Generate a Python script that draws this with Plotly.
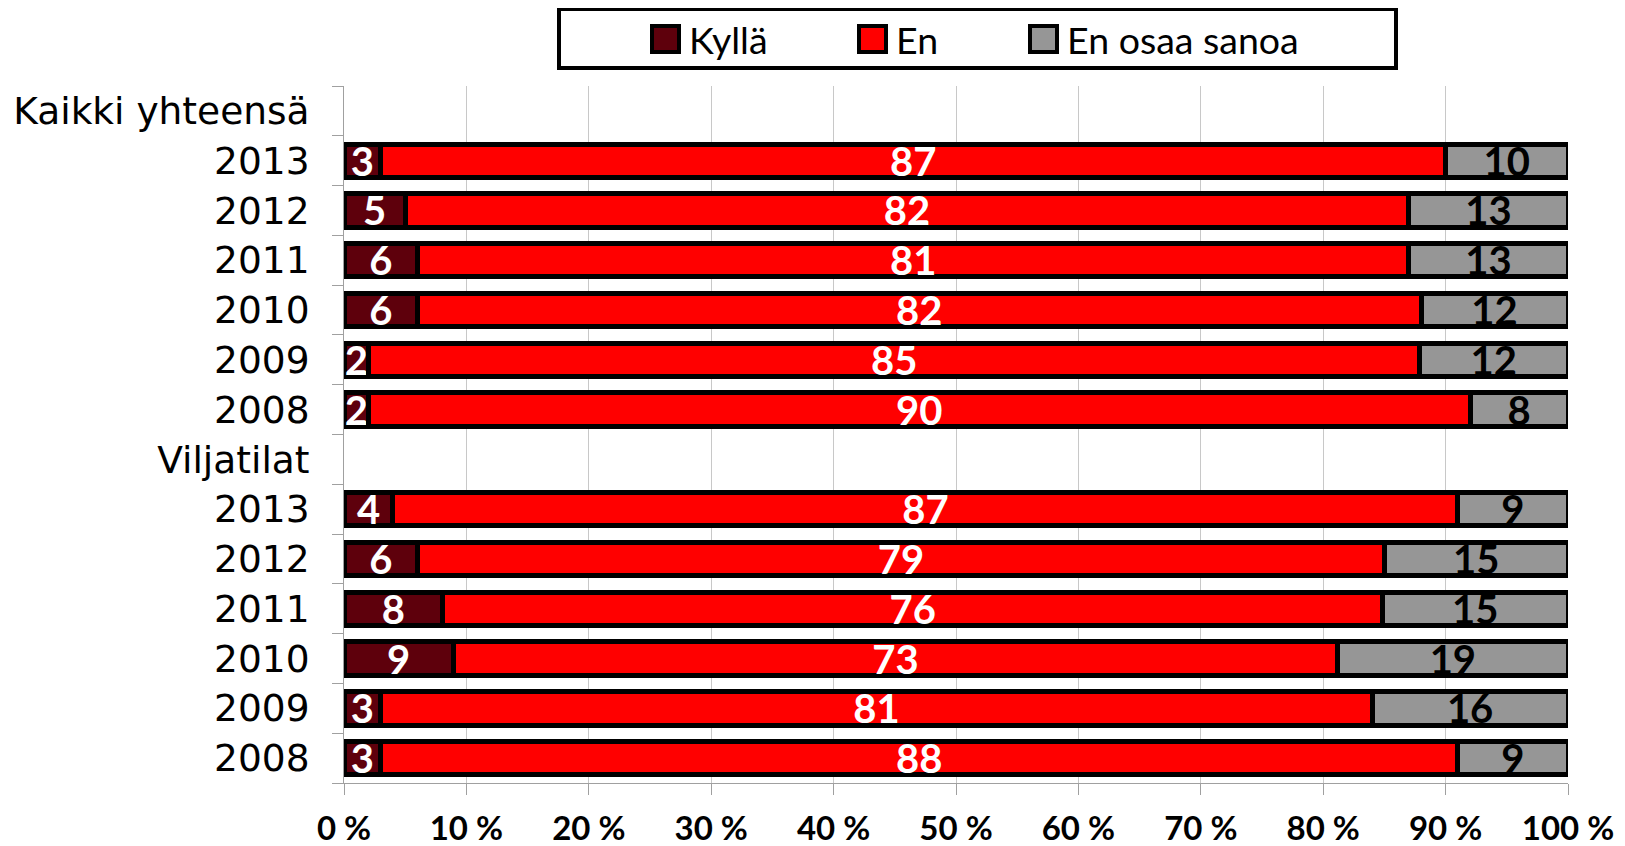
import plotly.graph_objects as go

# rows top to bottom; header rows carry no bar
row_labels = ["Kaikki yhteensä", "2013", "2012", "2011", "2010", "2009", "2008",
              "Viljatilat", "2013", "2012", "2011", "2010", "2009", "2008"]
row_ids = ["hdr_k", "k2013", "k2012", "k2011", "k2010", "k2009", "k2008",
           "hdr_v", "v2013", "v2012", "v2011", "v2010", "v2009", "v2008"]

# Kaikki yhteensä
kylla_kaikki = [3, 5, 6, 6, 2, 2]
en_kaikki = [87, 82, 81, 82, 85, 90]
eos_kaikki = [10, 13, 13, 12, 12, 8]
# Viljatilat
kylla_vilja = [4, 6, 8, 9, 3, 3]
en_vilja = [87, 79, 76, 73, 81, 88]
eos_vilja = [9, 15, 15, 19, 16, 9]

series_names = ["Kyllä", "En", "En osaa sanoa"]
series_colors = ["#5E000C", "#FF0000", "#969696"]
label_colors = ["white", "white", "black"]
kaikki_vals = [kylla_kaikki, en_kaikki, eos_kaikki]
vilja_vals = [kylla_vilja, en_vilja, eos_vilja]

x_ticks = list(range(0, 101, 10))

# the page body has an 8px margin, so figure coords = screen coords - 8
OFF = 8
W, H = 1625 - OFF, 846 - OFF
L, R, T, B = 344 - OFF, 1568 - OFF, 86 - OFF, 783 - OFF


def px_x(p):
    return (p - OFF - L) / (R - L)


def px_y(p):
    return (B - (p - OFF)) / (B - T)


fig = go.Figure()
for name, color, txtcolor, kaikki, vilja in zip(series_names, series_colors, label_colors,
                                                 kaikki_vals, vilja_vals):
    xs = [None] + kaikki + [None] + vilja
    txt = [""] + [str(v) for v in kaikki] + [""] + [str(v) for v in vilja]
    fig.add_trace(go.Bar(
        y=row_ids, x=xs, name=name, orientation="h",
        marker=dict(color=color, line=dict(color="black", width=5)),
        text=txt, textposition="inside", insidetextanchor="middle",
        textangle=0, constraintext="none",
        textfont=dict(family="Lato", size=40, color=txtcolor, weight="bold"),
        hoverinfo="skip", showlegend=False,
    ))

# hand-drawn legend box like the original (screen pixel positions)
legend_y = 39
icon_left = [652, 859, 1030]
shapes = [dict(type="rect", xref="paper", yref="paper",
               x0=px_x(559), x1=px_x(1396), y0=px_y(68), y1=px_y(9),
               line=dict(color="black", width=4), fillcolor="white", layer="below")]
annotations = []
for name, color, xl in zip(series_names, series_colors, icon_left):
    shapes.append(dict(type="rect", xref="paper", yref="paper",
                       x0=px_x(xl), x1=px_x(xl + 27), y0=px_y(legend_y + 13), y1=px_y(legend_y - 13),
                       line=dict(color="black", width=4), fillcolor=color))
    annotations.append(dict(text=name, xref="paper", yref="paper", x=px_x(xl + 35), y=px_y(legend_y),
                            xanchor="left", yanchor="middle", showarrow=False,
                            font=dict(family="Lato", size=37.5, color="black")))

fig.update_layout(
    width=W, height=H,
    barmode="stack", barnorm="percent", bargap=0.33,
    margin=dict(l=L, r=W - R, t=T, b=H - B, autoexpand=False),
    paper_bgcolor="white", plot_bgcolor="white",
    showlegend=False, shapes=shapes, annotations=annotations,
)

fig.update_xaxes(
    range=[0, 100], tickmode="array", tickvals=x_ticks,
    ticktext=[f"{v} %" for v in x_ticks],
    showgrid=True, gridcolor="#C8C8C8", gridwidth=1, zeroline=False,
    showline=True, linecolor="#A0A0A0", linewidth=1,
    ticks="outside", ticklen=11, tickcolor="#A0A0A0",
    tickfont=dict(family="Lato", size=33, color="black", weight="bold"),
    ticklabelstandoff=5, automargin=False,
)
fig.update_yaxes(
    type="category", categoryorder="array", categoryarray=row_ids,
    autorange="reversed",
    tickmode="array", tickvals=row_ids, ticktext=row_labels,
    showgrid=False, showline=True, linecolor="#A0A0A0", linewidth=1,
    ticks="outside", tickson="boundaries", ticklen=11, tickcolor="#A0A0A0",
    tickfont=dict(family="DejaVu Sans", size=37.5, color="black"),
    ticklabelstandoff=26, automargin=False,
)

fig.write_html("out.html")
